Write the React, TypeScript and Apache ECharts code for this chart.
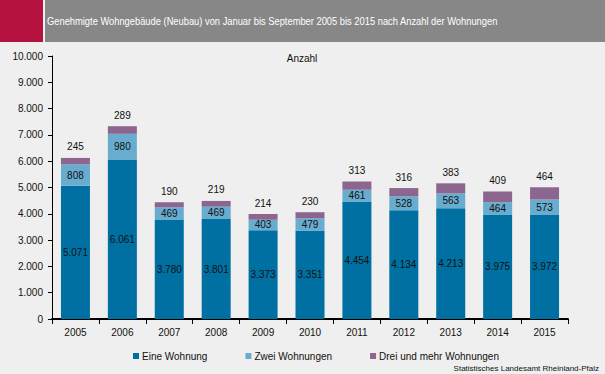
import React, { useEffect, useRef } from "react";
import * as echarts from "echarts";

const years = ["2005", "2006", "2007", "2008", "2009", "2010", "2011", "2012", "2013", "2014", "2015"];
const eineWohnung = [5071, 6061, 3780, 3801, 3373, 3351, 4454, 4134, 4213, 3975, 3972];
const zweiWohnungen = [808, 980, 469, 469, 403, 479, 461, 528, 563, 464, 573];
const dreiUndMehr = [245, 289, 190, 219, 214, 230, 313, 316, 383, 409, 464];
const seriesNames = ["Eine Wohnung", "Zwei Wohnungen", "Drei und mehr Wohnungen"];

const fmt = (v: number) => String(v).replace(/\B(?=(\d{3})+(?!\d))/g, ".");

export default function App() {
  const ref = useRef<HTMLDivElement>(null);
  useEffect(() => {
    const chart = echarts.init(ref.current!, null, { renderer: "svg" });
    const font = "Liberation Sans, Arial, sans-serif";
    const inner = {
      show: true,
      position: "inside" as const,
      color: "#111",
      fontSize: 10,
      fontFamily: font,
      formatter: (p: any) => fmt(p.value),
    };
    chart.setOption({
      animation: false,
      backgroundColor: "#eeefee",
      textStyle: { fontFamily: font },
      graphic: [
        { type: "rect", shape: { x: 0, y: 0, width: 43, height: 42 }, style: { fill: "#b5123f" } },
        { type: "rect", shape: { x: 45, y: 0, width: 560, height: 42 }, style: { fill: "#878787" } },
        {
          type: "text",
          x: 47,
          y: 21,
          scaleX: 0.89,
          style: {
            text: "Genehmigte Wohngebäude (Neubau) von Januar bis September 2005 bis 2015 nach Anzahl der Wohnungen",
            fill: "#ffffff",
            fontSize: 10.5,
            fontFamily: font,
            verticalAlign: "middle",
          },
        },
        {
          type: "text",
          x: 302,
          y: 58,
          style: { text: "Anzahl", fill: "#111", fontSize: 10, fontFamily: font, align: "center", verticalAlign: "middle" },
        },
        {
          type: "text",
          x: 599,
          y: 368,
          style: {
            text: "Statistisches Landesamt Rheinland-Pfalz",
            fill: "#111",
            fontSize: 8,
            fontFamily: font,
            align: "right",
            verticalAlign: "middle",
          },
        },
      ],
      legend: {
        left: 128,
        top: 346,
        itemWidth: 6,
        itemHeight: 6,
        itemGap: 38,
        icon: "rect",
        textStyle: { fontSize: 10, color: "#111", fontFamily: font, padding: [0, 0, 0, -2] },
        data: seriesNames,
      },
      grid: { left: 52, right: 37, top: 56, bottom: 55 },
      xAxis: {
        type: "category",
        data: years,
        axisLine: { lineStyle: { color: "#000", width: 2 } },
        axisTick: { show: true, length: 5, lineStyle: { color: "#000" } },
        axisLabel: { color: "#111", fontSize: 10, margin: 8, fontFamily: font },
      },
      yAxis: {
        type: "value",
        min: 0,
        max: 10000,
        interval: 1000,
        axisLine: { show: true, lineStyle: { color: "#000" } },
        axisTick: { show: true, length: 4, lineStyle: { color: "#000" } },
        splitLine: { show: false },
        axisLabel: { color: "#111", fontSize: 10, margin: 9, fontFamily: font, formatter: (v: number) => fmt(v) },
      },
      series: [
        {
          name: seriesNames[0],
          type: "bar",
          stack: "a",
          data: eineWohnung,
          barWidth: 29,
          itemStyle: { color: "#0070a2" },
          label: inner,
        },
        {
          name: seriesNames[1],
          type: "bar",
          stack: "a",
          data: zweiWohnungen,
          itemStyle: { color: "#68acd0" },
          label: inner,
        },
        {
          name: seriesNames[2],
          type: "bar",
          stack: "a",
          data: dreiUndMehr,
          itemStyle: { color: "#8d6690" },
          label: { ...inner, position: "top", distance: 6 },
        },
      ],
    });
    return () => chart.dispose();
  }, []);
  return <div ref={ref} style={{ width: 605, height: 374, position: "absolute", left: 0, top: 0 }} />;
}
